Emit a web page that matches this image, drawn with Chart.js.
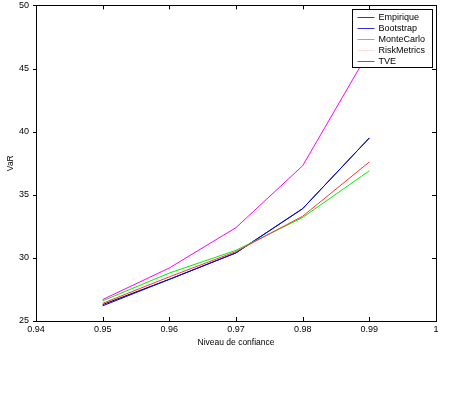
<!DOCTYPE html>
<html>
<head>
<meta charset="utf-8">
<script src="https://cdn.jsdelivr.net/npm/chart.js@4"></script>
<style>
  html, body { margin: 0; padding: 0; background: #fff; }
  #wrap { width: 457px; height: 416px; }
</style>
</head>
<body>
<div id="wrap"><canvas id="chart" width="457" height="416"></canvas></div>
<script>
// niveaux de confiance
const levels = [0.95, 0.96, 0.97, 0.98, 0.99];

const empirique   = [26.3, 28.3, 30.4, 33.9, 39.5];
const bootstrap   = [26.2, 28.3, 30.4, 33.9, 39.5];
const monteCarlo  = [26.6, 28.8, 30.6, 33.2, 36.9];
const riskMetrics = [26.4, 28.5, 30.5, 33.3, 37.6];
const tve         = [26.7, 29.2, 32.4, 37.3, 46.4];

const xTicks = [0.94, 0.95, 0.96, 0.97, 0.98, 0.99, 1];
const yTicks = [25, 30, 35, 40, 45, 50];

function pts(vals) {
  return levels.map(function (x, i) { return { x: x, y: vals[i] }; });
}

const series = [
  { label: "Empirique",   data: empirique,   color: "#000000", legendColor: "#444444" },
  { label: "Bootstrap",   data: bootstrap,   color: "#0000ff", legendColor: "#3333cc" },
  { label: "MonteCarlo",  data: monteCarlo,  color: "#00ee00", legendColor: "#22ff22" },
  { label: "RiskMetrics", data: riskMetrics, color: "#ff3333", legendColor: "#ffdddd" },
  { label: "TVE",         data: tve,         color: "#ff00ff", legendColor: "#ff00ff" }
];

const FONT = "Liberation Sans, Arial, sans-serif";

// cadre, ticks vers l'interieur et legende a la matlab
const matlabBox = {
  id: "matlabBox",
  afterDraw: function (chart) {
    const ctx = chart.ctx;
    const a = chart.chartArea;
    const xs = chart.scales.x, ys = chart.scales.y;
    ctx.save();
    ctx.strokeStyle = "#000";
    ctx.lineWidth = 1;
    ctx.strokeRect(Math.round(a.left) + 0.5, Math.round(a.top) + 0.5,
      Math.round(a.right - a.left), Math.round(a.bottom - a.top));
    ctx.beginPath();
    xTicks.forEach(function (v) {
      const px = Math.round(xs.getPixelForValue(v)) + 0.5;
      ctx.moveTo(px, a.bottom); ctx.lineTo(px, a.bottom - 4);
      ctx.moveTo(px, a.top); ctx.lineTo(px, a.top + 4);
    });
    yTicks.forEach(function (v) {
      const py = Math.round(ys.getPixelForValue(v)) + 0.5;
      ctx.moveTo(a.left - 3, py); ctx.lineTo(a.left + 1, py);
      ctx.moveTo(a.right, py); ctx.lineTo(a.right - 4, py);
    });
    ctx.stroke();

    // legende
    const lx = 352.5, ly = 9.5, lw = 80, lh = 58;
    ctx.fillStyle = "#fff";
    ctx.fillRect(lx, ly, lw, lh);
    ctx.strokeStyle = "#000";
    ctx.strokeRect(lx, ly, lw, lh);
    ctx.font = "9px " + FONT;
    ctx.textBaseline = "middle";
    for (let i = 0; i < series.length; i++) {
      const s = series[i];
      const y = Math.round(ly + 7 + i * 11) + 0.5;
      ctx.beginPath();
      ctx.strokeStyle = s.legendColor;
      ctx.moveTo(lx + 5, y);
      ctx.lineTo(lx + 22, y);
      ctx.stroke();
      ctx.fillStyle = "#000";
      ctx.fillText(s.label, lx + 26, y);
    }
    ctx.restore();
  }
};

new Chart(document.getElementById("chart"), {
  type: "line",
  data: {
    datasets: series.slice().reverse().map(function (s) {
      return {
        label: s.label,
        data: pts(s.data),
        borderColor: s.color,
        backgroundColor: s.color,
        borderWidth: 1,
        pointRadius: 0,
        tension: 0,
        fill: false
      };
    })
  },
  options: {
    responsive: false,
    animation: false,
    layout: { padding: { left: 0, top: 0, right: 21, bottom: 68 } },
    plugins: {
      legend: { display: false },
      tooltip: { enabled: false }
    },
    scales: {
      x: {
        type: "linear",
        min: 0.94, max: 1,
        afterBuildTicks: function (axis) {
          axis.ticks = xTicks.map(function (v) { return { value: v }; });
        },
        afterFit: function (axis) { axis.height = 27; },
        grid: { display: false, drawTicks: false },
        border: { display: false },
        ticks: {
          color: "#000",
          padding: 3,
          maxRotation: 0,
          font: { family: FONT, size: 9 },
          callback: function (v) { return String(Math.round(v * 100) / 100); }
        },
        title: {
          display: true,
          text: "Niveau de confiance",
          color: "#000",
          padding: { top: 2, bottom: 0 },
          font: { family: FONT, size: 8.5 }
        }
      },
      y: {
        min: 25, max: 50,
        afterBuildTicks: function (axis) {
          axis.ticks = yTicks.map(function (v) { return { value: v }; });
        },
        afterFit: function (axis) { axis.width = 36; },
        grid: { display: false, drawTicks: true, tickLength: 7 },
        border: { display: false },
        ticks: {
          color: "#000",
          padding: 0,
          font: { family: FONT, size: 9 }
        },
        title: {
          display: true,
          text: "VaR",
          color: "#000",
          padding: { top: 6, bottom: 0 },
          font: { family: FONT, size: 8.5 }
        }
      }
    }
  },
  plugins: [matlabBox]
});
</script>
</body>
</html>
